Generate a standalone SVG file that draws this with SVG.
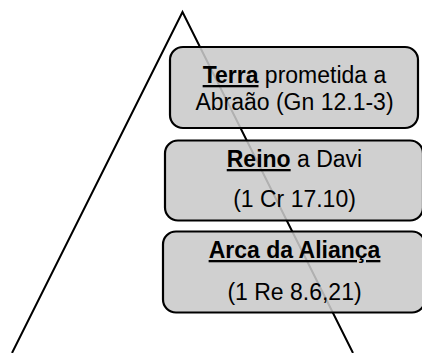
<svg xmlns="http://www.w3.org/2000/svg" width="422" height="353" viewBox="0 0 422 353">
<style>
.box{fill:#c9c9c9;fill-opacity:0.875;stroke:#000;stroke-width:2.2}
.t{font-family:"Liberation Sans",Arial,sans-serif;font-size:23px;fill:#000;text-anchor:middle}
.b{font-weight:bold;text-decoration:underline}
</style>
<g id="triangle">
<polyline points="12,353 182.5,12 353,353" fill="none" stroke="#000" stroke-width="2"/>
</g>
<g id="node-terra">
<rect class="box" x="170" y="47" width="248" height="81" rx="13"/>
<text class="t" x="294.5" y="83"><tspan class="b">Terra</tspan> prometida a</text>
<text class="t" x="294.5" y="110">Abraão (Gn 12.1-3)</text>
</g>
<g id="node-reino">
<rect class="box" x="165" y="140.5" width="258" height="80" rx="13"/>
<text class="t" x="294.5" y="167"><tspan class="b">Reino</tspan> a Davi</text>
<text class="t" x="294.5" y="207">(1 Cr 17.10)</text>
</g>
<g id="node-arca">
<rect class="box" x="163" y="231.5" width="262" height="81" rx="13"/>
<text class="t" x="294.5" y="258"><tspan class="b">Arca da Aliança</tspan></text>
<text class="t" x="294.5" y="300">(1 Re 8.6,21)</text>
</g>
</svg>
